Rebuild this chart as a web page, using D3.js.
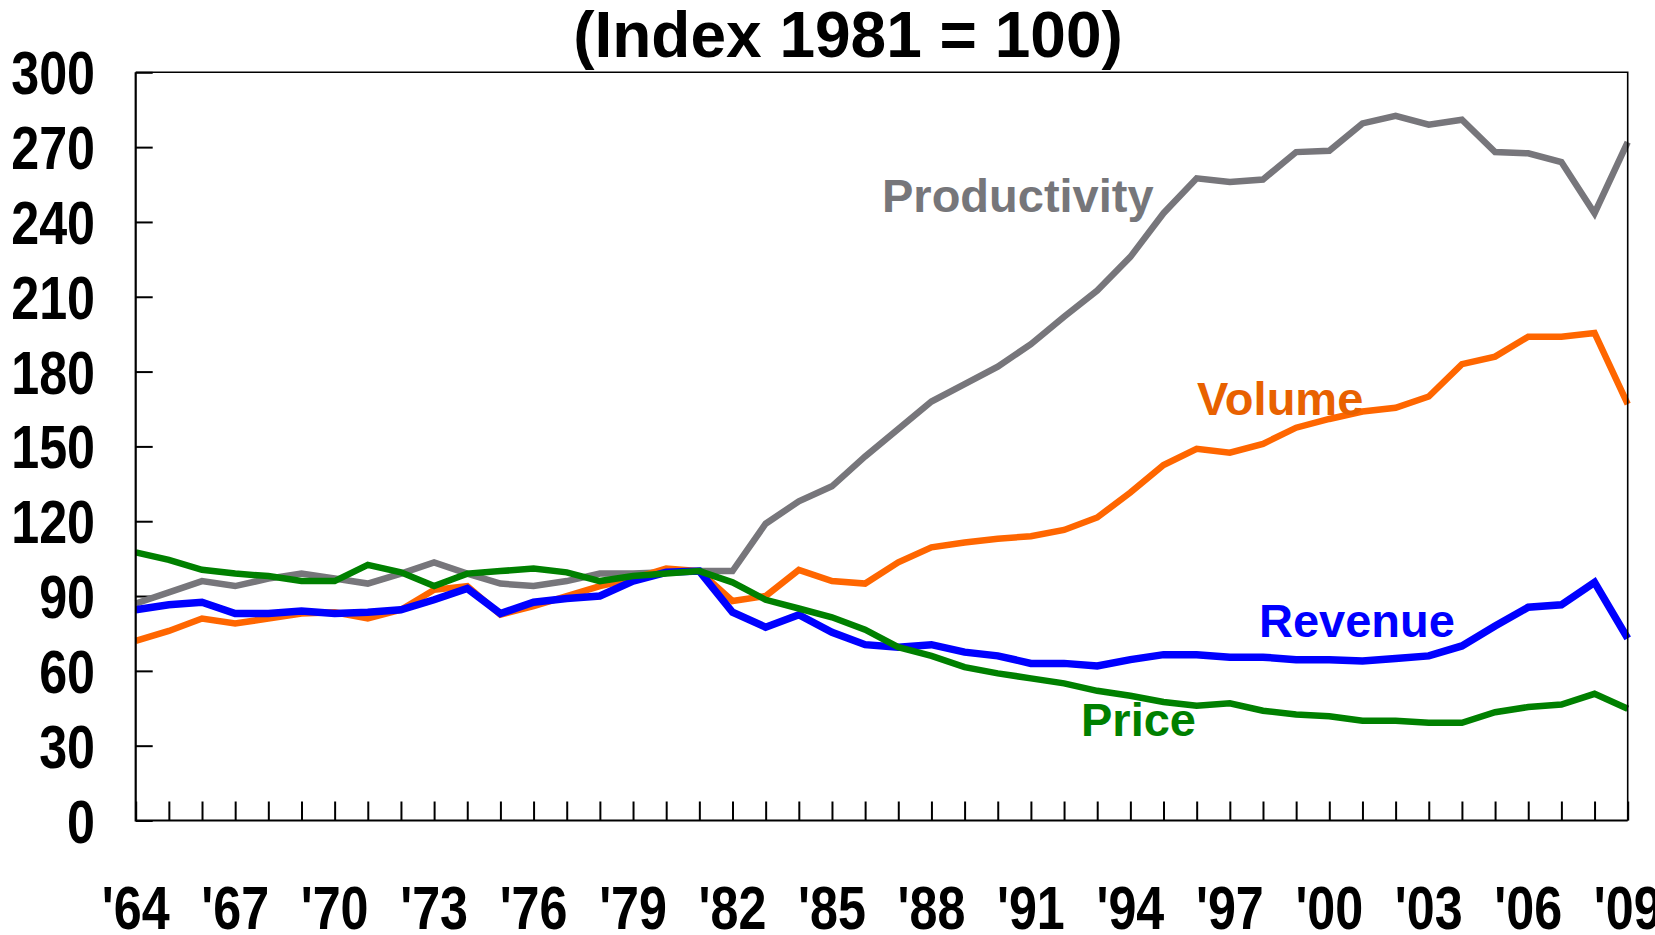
<!DOCTYPE html>
<html>
<head>
<meta charset="utf-8">
<script src="https://cdn.jsdelivr.net/npm/d3@7"></script>
<style>
  html, body { margin: 0; padding: 0; background: #fff; overflow: hidden; }
  svg { display: block; font-family: "Liberation Sans", Arial, sans-serif; font-weight: bold; }
</style>
</head>
<body>
<div id="chart"><svg></svg></div>
<script>
const width = 1655;
const height = 935;

// data, index 1981 = 100
const years = d3.range(1964, 2010);

const productivity = [87, 91.5, 96, 94, 97, 99, 97, 95, 99, 103.5, 99, 95, 94, 96, 99, 99, 99.5, 100,
  100, 119, 128, 134, 146, 157, 168, 175, 182, 191, 202, 212.5, 226, 243.5, 257.5, 256, 257, 268,
  268.5, 279.5, 282.5, 279, 281, 268, 267.5, 264, 243.5, 272];

const volume = [72, 76, 81, 79, 81, 83, 83.5, 81, 84.5, 92.5, 94, 82.5, 86, 90, 94, 97, 101, 100,
  88, 90, 100.5, 96, 95, 103.5, 109.5, 111.5, 113, 114, 116.5, 121.5, 131.5, 142.5, 149, 147.5,
  151, 157.5, 161, 164, 165.5, 170, 183, 186, 194, 194, 195.5, 167];

const revenue = [84.5, 86.5, 87.5, 83, 83, 84, 83, 83.5, 84.5, 88.5, 93, 83, 87.5, 89, 90, 96, 99.5,
  100, 83.5, 77.5, 82.5, 75.5, 70.5, 69.5, 70.5, 67.5, 66, 63, 63, 62, 64.5, 66.5, 66.5, 65.5,
  65.5, 64.5, 64.5, 64, 65, 66, 70, 78, 85.5, 86.5, 95.5, 73];

const price = [107.5, 104.5, 100.5, 99, 98, 96, 96, 102.5, 99.5, 94, 99, 100, 101, 99.5, 96, 98, 99,
  100, 95.5, 88.5, 85, 81.5, 76.5, 69.5, 66, 61.5, 59, 57, 55, 52, 50, 47.5, 46, 47, 44, 42.5,
  41.8, 40, 40, 39.2, 39.2, 43.4, 45.5, 46.5, 50.8, 44.8];

const yTicks = [0, 30, 60, 90, 120, 150, 180, 210, 240, 270, 300];
const xLabelYears = d3.range(1964, 2010, 3);

const series = [
  { name: 'Productivity', values: productivity, color: '#77767b', text: '#76767a', w: 6.5, lx: 882, ly: 211.5 },
  { name: 'Volume', values: volume, color: '#ff6600', text: '#e86100', w: 6.5, lx: 1197, ly: 415 },
  { name: 'Revenue', values: revenue, color: '#0000ff', text: '#0000ff', w: 7.5, lx: 1259, ly: 637 },
  { name: 'Price', values: price, color: '#008000', text: '#008000', w: 6.5, lx: 1081, ly: 735.5 }
];

const svg = d3.select('#chart').select('svg')
  .attr('width', width)
  .attr('height', height)
  .attr('viewBox', `0 0 ${width} ${height}`);

const plotLeft = 135.7, plotRight = 1627.7, plotTop = 72.3, plotBottom = 820.5;

const x = d3.scaleLinear().domain([1964, 2009]).range([plotLeft, plotRight]);
const y = d3.scaleLinear().domain([0, 300]).range([plotBottom, plotTop]);

// title
svg.append('text')
  .attr('x', 848)
  .attr('y', 57)
  .attr('text-anchor', 'middle')
  .style('font-size', '64px')
  .text('(Index 1981 = 100)');

// y ticks (inside)
svg.append('g')
  .attr('transform', `translate(${plotLeft},0)`)
  .call(d3.axisRight(y).tickValues(yTicks).tickSize(17).tickFormat(''))
  .call(g => g.select('.domain').remove())
  .selectAll('line').attr('stroke', '#000').attr('stroke-width', 2);

// x ticks (inside, every year)
svg.append('g')
  .attr('transform', `translate(0,${plotBottom})`)
  .call(d3.axisTop(x).tickValues(years).tickSize(19).tickFormat(''))
  .call(g => g.select('.domain').remove())
  .selectAll('line').attr('stroke', '#000').attr('stroke-width', 2);

// y labels, condensed
svg.append('g').selectAll('text')
  .data(yTicks)
  .join('text')
  .attr('transform', d => `translate(95,${y(d) + 22}) scale(0.81,1)`)
  .attr('text-anchor', 'end')
  .style('font-size', '62px')
  .text(d => d);

// x labels
svg.append('g').selectAll('text')
  .data(xLabelYears)
  .join('text')
  .attr('transform', d => `translate(${x(d)},929) scale(0.81,1)`)
  .attr('text-anchor', 'middle')
  .style('font-size', '62px')
  .text(d => "'" + String(d).slice(2));

// lines
const line = d3.line()
  .x((d, i) => x(years[i]))
  .y(d => y(d));

svg.append('g').selectAll('path')
  .data(series)
  .join('path')
  .attr('d', d => line(d.values))
  .attr('fill', 'none')
  .attr('stroke', d => d.color)
  .attr('stroke-width', d => d.w)
  .attr('stroke-linejoin', 'miter')
  .attr('stroke-miterlimit', 3);

// frame
svg.append('path')
  .attr('d', `M${plotLeft},${plotTop}H${plotRight}V${plotBottom}`)
  .attr('fill', 'none')
  .attr('stroke', '#000')
  .attr('stroke-width', 1.6);

svg.append('path')
  .attr('d', `M${plotLeft},${plotTop}V${plotBottom}H${plotRight}`)
  .attr('fill', 'none')
  .attr('stroke', '#000')
  .attr('stroke-width', 2.2);

// series labels
svg.append('g').selectAll('text')
  .data(series)
  .join('text')
  .attr('x', d => d.lx)
  .attr('y', d => d.ly)
  .attr('fill', d => d.text)
  .style('font-size', '47px')
  .text(d => d.name);
</script>
</body>
</html>
